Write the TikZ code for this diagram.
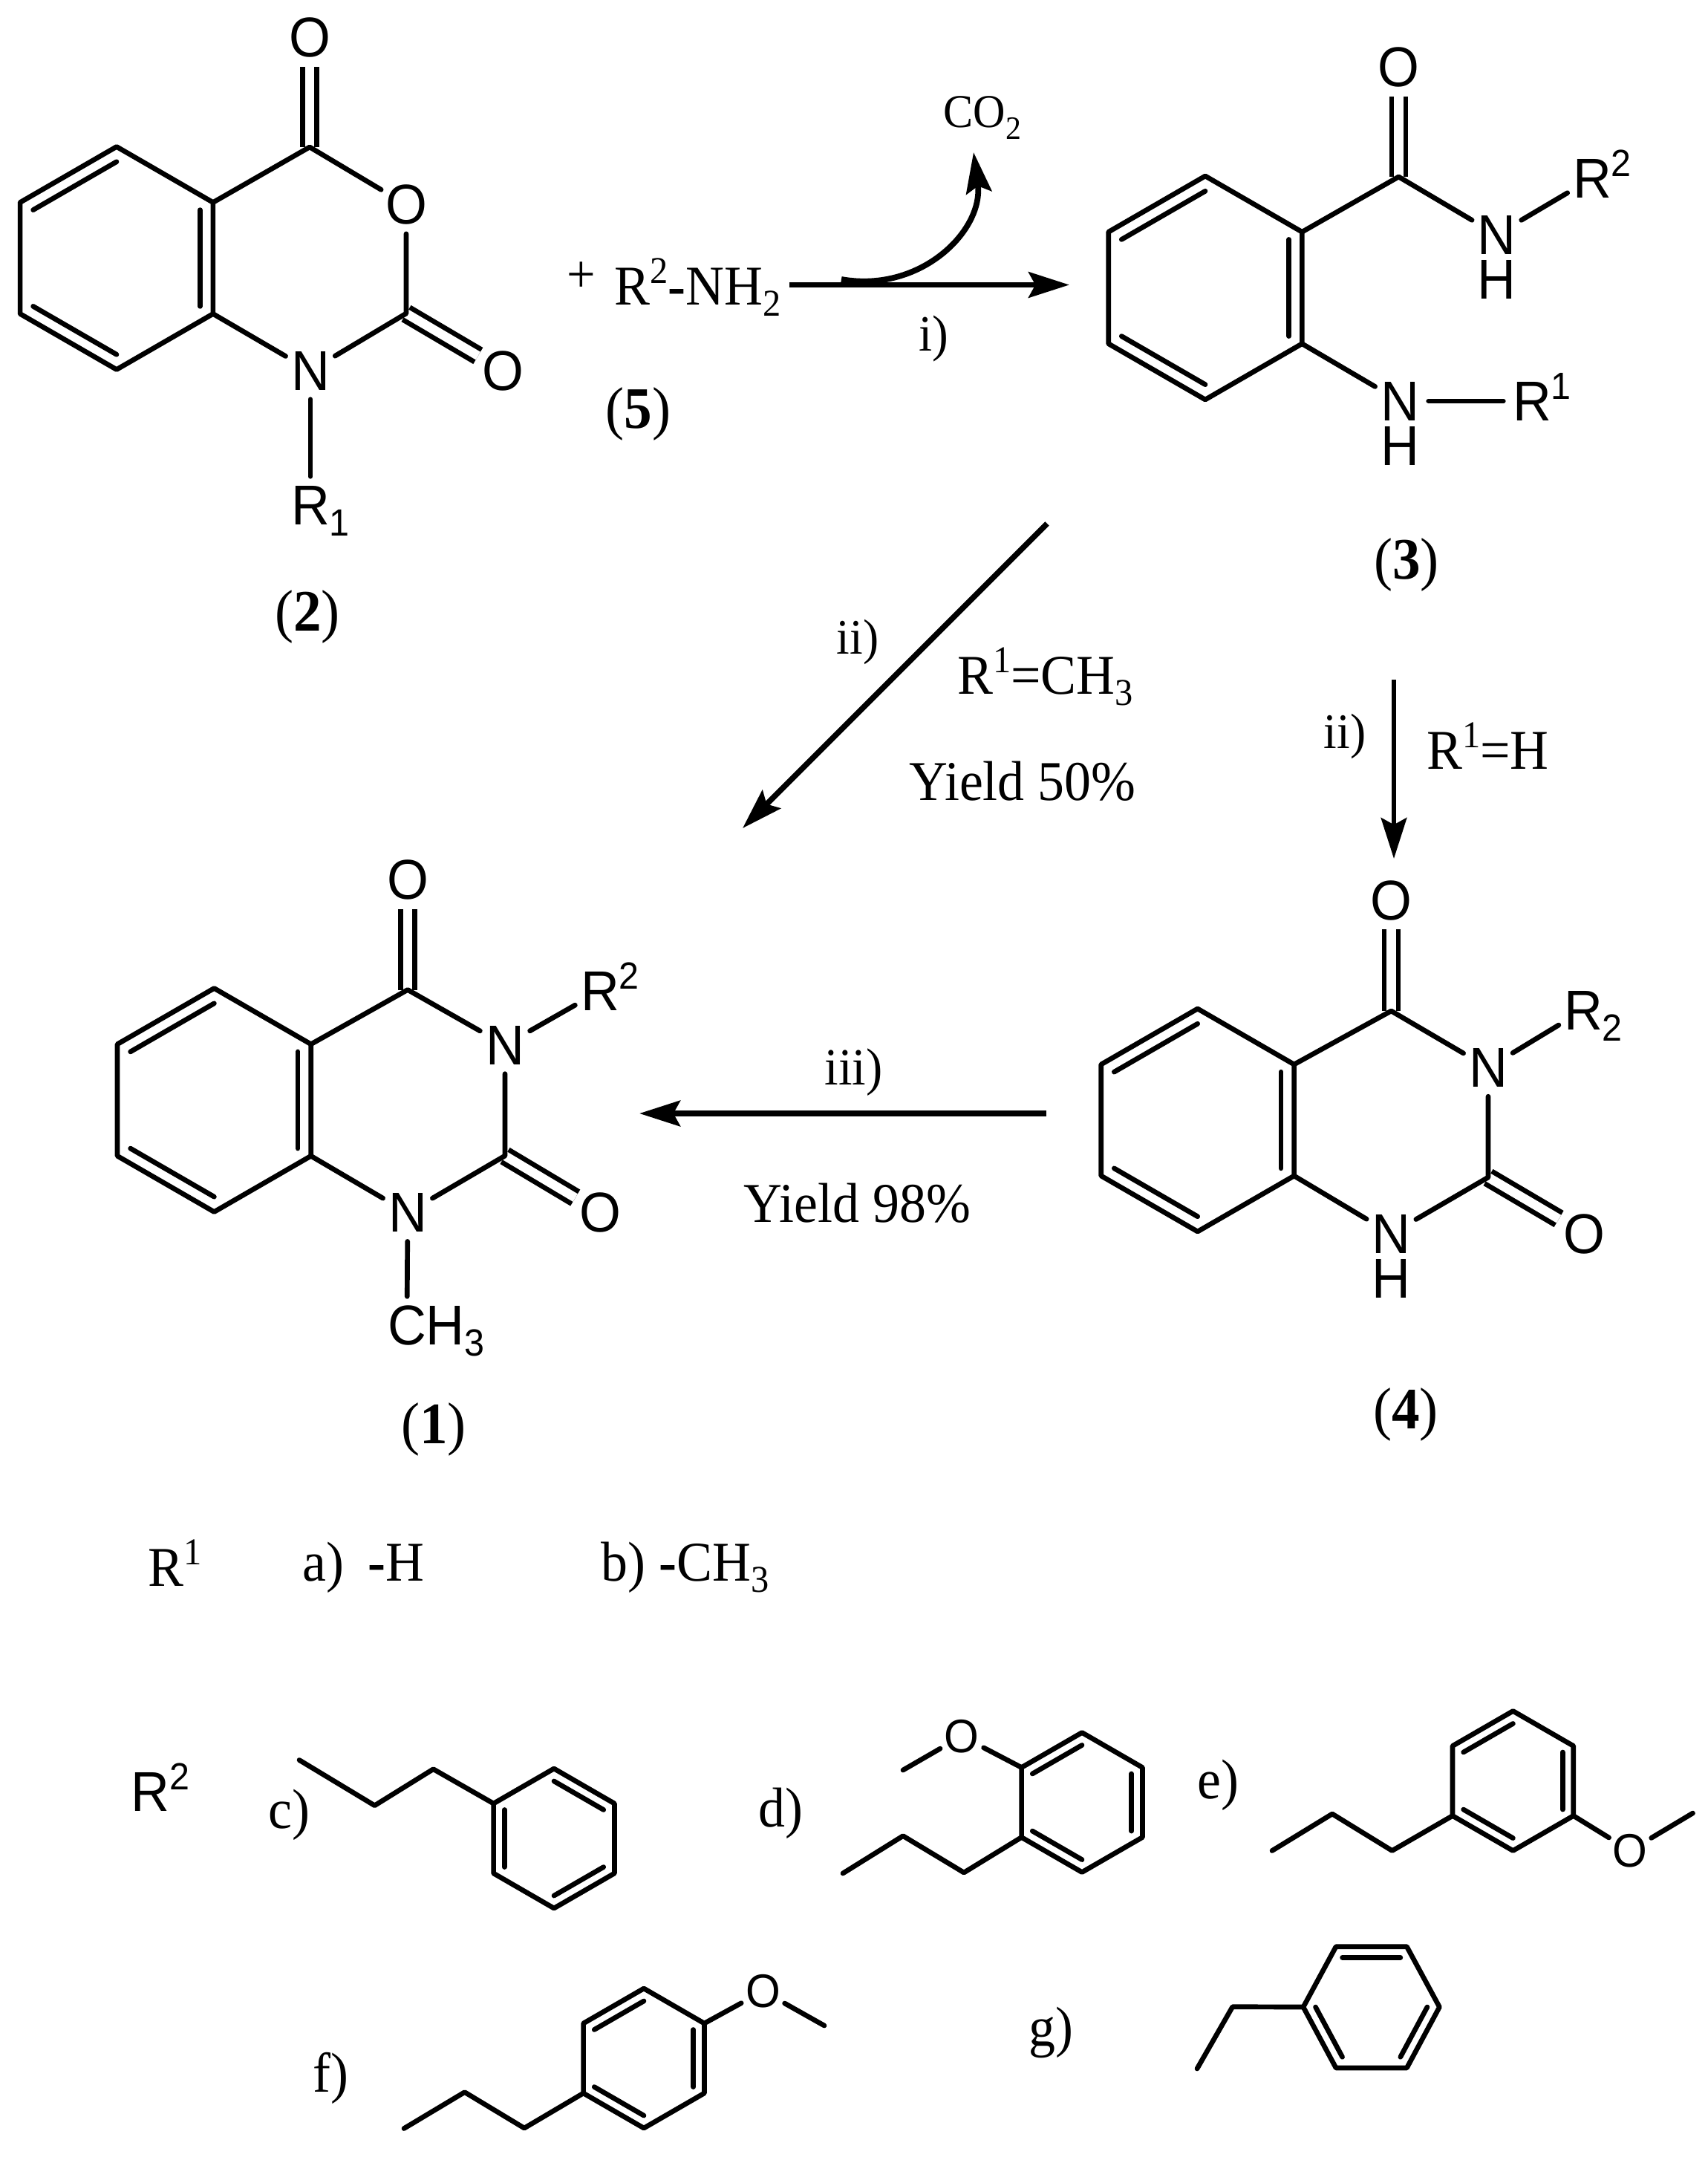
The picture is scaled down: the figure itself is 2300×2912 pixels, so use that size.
\documentclass[tikz,border=0pt]{standalone}
\usepackage{fontspec}
\setmainfont[FakeStretch=0.95]{Liberation Serif}
\newfontfamily\chemsans[FakeStretch=0.95]{Liberation Sans}
\usetikzlibrary{arrows.meta,calc}
% scripts
\newcommand{\upsc}[1]{\raisebox{8.2pt}{\fontsize{14.5}{14.5}\selectfont #1}}
\newcommand{\dnsc}[1]{\raisebox{-4.5pt}{\fontsize{14.5}{14.5}\selectfont #1}}
\newcommand{\atomsup}[1]{\smash{\rlap{\upsc{#1}}}}
\newcommand{\atomsub}[1]{\smash{\rlap{\dnsc{#1}}}}
% pointy-top hexagon: name, cx, cy, R
\newcommand{\hexp}[4]{%
  \coordinate (#1c) at (#2,#3);
  \coordinate (#1v1) at (#2,{#3-#4});
  \coordinate (#1v2) at ({#2-0.866*#4},{#3-0.5*#4});
  \coordinate (#1v3) at ({#2-0.866*#4},{#3+0.5*#4});
  \coordinate (#1v4) at (#2,{#3+#4});
  \coordinate (#1v5) at ({#2+0.866*#4},{#3+0.5*#4});
  \coordinate (#1v6) at ({#2+0.866*#4},{#3-0.5*#4});
}
\newcommand{\ringbonds}[1]{\draw[bond] (#1v1)--(#1v2)--(#1v3)--(#1v4)--(#1v5)--(#1v6)--cycle;}
% inner line of a ring double bond: ring, i, j, scale
\newcommand{\ib}[4]{\draw[bond] ($(#1c)!#4!(#1v#2)$) -- ($(#1c)!#4!(#1v#3)$);}
\tikzset{
  bond/.style={line width=1.9pt,line cap=round,line join=round},
  dblbond/.style={line width=1.9pt,double,double distance=3.5pt,line cap=butt},
  rxn/.style={line width=2.2pt,-{Stealth[length=15.6pt,width=9.8pt,inset=2.6pt]}},
  atom/.style={circle,inner sep=0pt,minimum size=21.6pt,font=\chemsans\fontsize{21.5}{21.5}\selectfont},
  smallatom/.style={circle,inner sep=0pt,minimum size=18.6pt,font=\chemsans\fontsize{18}{18}\selectfont},
  plainatom/.style={inner sep=0pt,font=\chemsans\fontsize{21.5}{21.5}\selectfont},
  lbl/.style={anchor=base west,inner sep=0pt,font=\fontsize{21.5}{21.5}\selectfont},
  cond/.style={anchor=base west,inner sep=0pt,font=\fontsize{19.5}{19.5}\selectfont},
  cmpd/.style={inner sep=0pt,font=\fontsize{22.5}{22.5}\selectfont},
}
\begin{document}
\begin{tikzpicture}[x=0.01cm,y=-0.01cm]
\useasboundingbox (0,0) rectangle (2300,2912);
\fill[white] (0,0) rectangle (2300,2912);

%% compound 2
\hexp{a}{157}{347.5}{150}
\coordinate (aC4) at (417,198);
\coordinate (aC2) at (547,422);
\node[atom] (aO4) at (417,50.5) {O};
\node[atom] (aO1) at (547,275.5) {O};
\node[atom] (aO2) at (677.7,499) {O};
\node[atom] (aN) at (418,499) {N};
\node[atom] (aR) at (418,680) {R\atomsub{1}};
\draw[dblbond] (aC4) -- (aO4);
\draw[dblbond] (aC2) -- (aO2);
\ringbonds{a}
\draw[bond] (av6) -- (aC4) -- (aO1);
\draw[bond] (aO1) -- (aC2) -- (aN);
\draw[bond] (aN) -- (av5);
\draw[bond] (aN) -- (aR);
\ib{a}{1}{2}{0.865}\ib{a}{3}{4}{0.865}\ib{a}{5}{6}{0.865}
\node[cmpd] (l2) at (414,830.6) {(\textbf{2})};

%% reagent 5
\node[inner sep=0pt,font=\fontsize{20.5}{20.5}\selectfont] (plus) at (783,373) {+};
\node[lbl] (amine) at (827,410) {R\upsc{2}\textbf{-}NH\dnsc{2}};
\node[cmpd] (l5) at (859.6,557) {(\textbf{5})};

%% compound 3
\hexp{b}{1623}{387.5}{150.5}
\coordinate (bC) at (1883.4,238);
\node[atom] (bO) at (1883.4,90.7) {O};
\node[atom] (bN2) at (2015.4,316) {N};
\node[plainatom] (bH2) at (2015.4,376) {H};
\node[atom] (bR2) at (2144,240) {R\atomsup{2}};
\node[atom] (bN1) at (1885,540) {N};
\node[plainatom] (bH1) at (1885,600) {H};
\node[atom] (bR1) at (2063,540) {R\atomsup{1}};
\draw[dblbond] (bC) -- (bO);
\ringbonds{b}
\draw[bond] (bv6) -- (bC) -- (bN2);
\draw[bond] (bN2) -- (bR2);
\draw[bond] (bv5) -- (bN1);
\draw[bond] (bN1) -- (bR1);
\ib{b}{1}{2}{0.865}\ib{b}{3}{4}{0.865}\ib{b}{5}{6}{0.865}
\node[cmpd] (l3) at (1894,760.6) {(\textbf{3})};

%% compound 1
\hexp{c}{288.4}{1481}{150.5}
\coordinate (cC4) at (549,1332.5);
\coordinate (cC2) at (680,1556);
\node[atom] (cO4) at (549,1184.4) {O};
\node[atom] (cN3) at (680,1407) {N};
\node[atom] (cR) at (808,1334) {R\atomsup{2}};
\node[atom] (cO2) at (808.5,1632.7) {O};
\node[atom] (cN1) at (549,1632.7) {N};
\node[atom] (cMe) at (548,1784) {C\smash{\rlap{H\dnsc{3}}}};
\draw[dblbond] (cC4) -- (cO4);
\draw[dblbond] (cC2) -- (cO2);
\ringbonds{c}
\draw[bond] (cv6) -- (cC4) -- (cN3);
\draw[bond] (cN3) -- (cC2) -- (cN1);
\draw[bond] (cN1) -- (cv5);
\draw[bond] (cN3) -- (cR);
\draw[bond] (cN1) -- (cMe);
\ib{c}{1}{2}{0.865}\ib{c}{3}{4}{0.865}\ib{c}{5}{6}{0.865}
\node[cmpd] (l1) at (584,1924) {(\textbf{1})};

%% compound 4
\hexp{d}{1612.7}{1508}{150}
\coordinate (dC4) at (1873.4,1361);
\coordinate (dC2) at (2004,1585);
\node[atom] (dO4) at (1873.4,1212) {O};
\node[atom] (dN3) at (2004,1437.5) {N};
\node[atom] (dR) at (2132,1360) {R\atomsub{2}};
\node[atom] (dO2) at (2133,1661) {O};
\node[atom] (dN1) at (1873.4,1661) {N};
\node[plainatom] (dH) at (1873.4,1721) {H};
\draw[dblbond] (dC4) -- (dO4);
\draw[dblbond] (dC2) -- (dO2);
\ringbonds{d}
\draw[bond] (dv6) -- (dC4) -- (dN3);
\draw[bond] (dN3) -- (dC2) -- (dN1);
\draw[bond] (dN1) -- (dv5);
\draw[bond] (dN3) -- (dR);
\ib{d}{1}{2}{0.865}\ib{d}{3}{4}{0.865}\ib{d}{5}{6}{0.865}
\node[cmpd] (l4) at (1893,1904) {(\textbf{4})};

%% reaction arrows
\coordinate (r1s) at (1063,383.5);
\coordinate (r1e) at (1440,383.5);
\coordinate (r1bs) at (1133,376);
\coordinate (r1be) at (1311,205);
\coordinate (r1k1) at (1240,395);
\coordinate (r1k2) at (1325,310);
\coordinate (r2s) at (1410,705);
\coordinate (r2e) at (1000,1115);
\coordinate (r3s) at (1877,915);
\coordinate (r3e) at (1877,1156);
\coordinate (r4s) at (1409,1499);
\coordinate (r4e) at (861,1499);
\draw[rxn] (r1s) -- (r1e);
\draw[rxn] (r1bs) .. controls (r1k1) and (r1k2) .. (r1be);
\draw[rxn] (r2s) -- (r2e);
\draw[rxn,line width=1.9pt] (r3s) -- (r3e);
\draw[rxn] (r4s) -- (r4e);

\node[anchor=base west,inner sep=0pt,font=\fontsize{18}{18}\selectfont] (co2) at (1270,172) {CO\dnsc{\fontsize{12.5}{12.5}\selectfont 2}};
\node[cond] (ci) at (1236.5,472) {i)};
\node[cond,font=\fontsize{19}{19}\selectfont] (cii1) at (1126,880) {ii)};
\node[cond,font=\fontsize{19}{19}\selectfont] (cii2) at (1782,1007) {ii)};
\node[cond,font=\fontsize{20}{20}\selectfont] (ciii) at (1110,1460.5) {iii)};
\node[lbl] (rme) at (1288.5,934) {R\upsc{1}=CH\dnsc{3}};
\node[lbl] (rh) at (1920.6,1035) {R\upsc{1}=H};
\node[lbl] (y50) at (1223.5,1077) {Yield 50\%};
\node[lbl] (y98) at (1001,1645) {Yield 98\%};

%% R1 list
\node[lbl] (r1t) at (199,2135) {R\upsc{1}};
\node[lbl] (opa) at (407,2128) {a)\hspace{9pt}\textbf{-}H};
\node[lbl] (opb) at (809,2128) {b) \textbf{-}CH\dnsc{3}};

%% R2 list
\node[anchor=base west,inner sep=0pt,font=\chemsans\fontsize{21.5}{21.5}\selectfont] (r2t) at (176,2438.7) {R\upsc{2}};
\node[lbl] (opc) at (361,2461) {c)};
\node[lbl] (opd) at (1021,2459) {d)};
\node[lbl] (ope) at (1612,2421) {e)};
\node[lbl] (opf) at (421,2816) {f)};
\node[lbl] (opg) at (1385,2754) {g)};

%% c)
\hexp{e}{746}{2475}{94}
\coordinate (ec1) at (403,2369.5);
\coordinate (ec2) at (504.5,2430.7);
\coordinate (ec3) at (583.5,2381.7);
\ringbonds{e}
\draw[bond] (ec1) -- (ec2) -- (ec3) -- (ev2);
\ib{e}{1}{6}{0.82}\ib{e}{2}{3}{0.82}\ib{e}{4}{5}{0.82}

%% d)
\hexp{f}{1457}{2426.5}{94}
\node[smallatom] (fO) at (1295,2337.4) {O};
\coordinate (fMe) at (1216,2383);
\coordinate (fc1) at (1298,2521);
\coordinate (fc2) at (1216,2471.6);
\coordinate (fc3) at (1135,2522);
\ringbonds{f}
\draw[bond] (fv2) -- (fO);
\draw[bond] (fO) -- (fMe);
\draw[bond] (fv3) -- (fc1) -- (fc2) -- (fc3);
\ib{f}{1}{2}{0.82}\ib{f}{3}{4}{0.82}\ib{f}{5}{6}{0.82}

%% e)
\hexp{g}{2037.4}{2397.5}{94}
\node[smallatom] (gO) at (2195,2491.5) {O};
\coordinate (gMe) at (2279.5,2441);
\coordinate (gc1) at (1874.6,2491.5);
\coordinate (gc2) at (1794,2442);
\coordinate (gc3) at (1713,2491.5);
\ringbonds{g}
\draw[bond] (gv5) -- (gO);
\draw[bond] (gO) -- (gMe);
\draw[bond] (gv3) -- (gc1) -- (gc2) -- (gc3);
\ib{g}{1}{2}{0.82}\ib{g}{3}{4}{0.82}\ib{g}{5}{6}{0.82}

%% f)
\hexp{h}{867}{2771}{94}
\node[smallatom] (hO) at (1027.5,2680.6) {O};
\coordinate (hMe) at (1110,2727);
\coordinate (hc1) at (706,2865);
\coordinate (hc2) at (625.7,2816.6);
\coordinate (hc3) at (544,2865.5);
\ringbonds{h}
\draw[bond] (hv6) -- (hO);
\draw[bond] (hO) -- (hMe);
\draw[bond] (hv3) -- (hc1) -- (hc2) -- (hc3);
\ib{h}{1}{2}{0.82}\ib{h}{3}{4}{0.82}\ib{h}{5}{6}{0.82}

%% g) flat-top ring
\coordinate (kc) at (1846.7,2702);
\coordinate (kv1) at (1799,2620.7);
\coordinate (kv2) at (1755,2702);
\coordinate (kv3) at (1799,2784);
\coordinate (kv4) at (1894.4,2784);
\coordinate (kv5) at (1938.4,2702);
\coordinate (kv6) at (1894.4,2620.7);
\coordinate (kc1) at (1659.7,2701.7);
\coordinate (kc2) at (1612,2785);
\ringbonds{k}
\draw[bond] (kv2) -- (kc1) -- (kc2);
\ib{k}{6}{1}{0.82}\ib{k}{2}{3}{0.82}\ib{k}{4}{5}{0.82}
\end{tikzpicture}
\end{document}
